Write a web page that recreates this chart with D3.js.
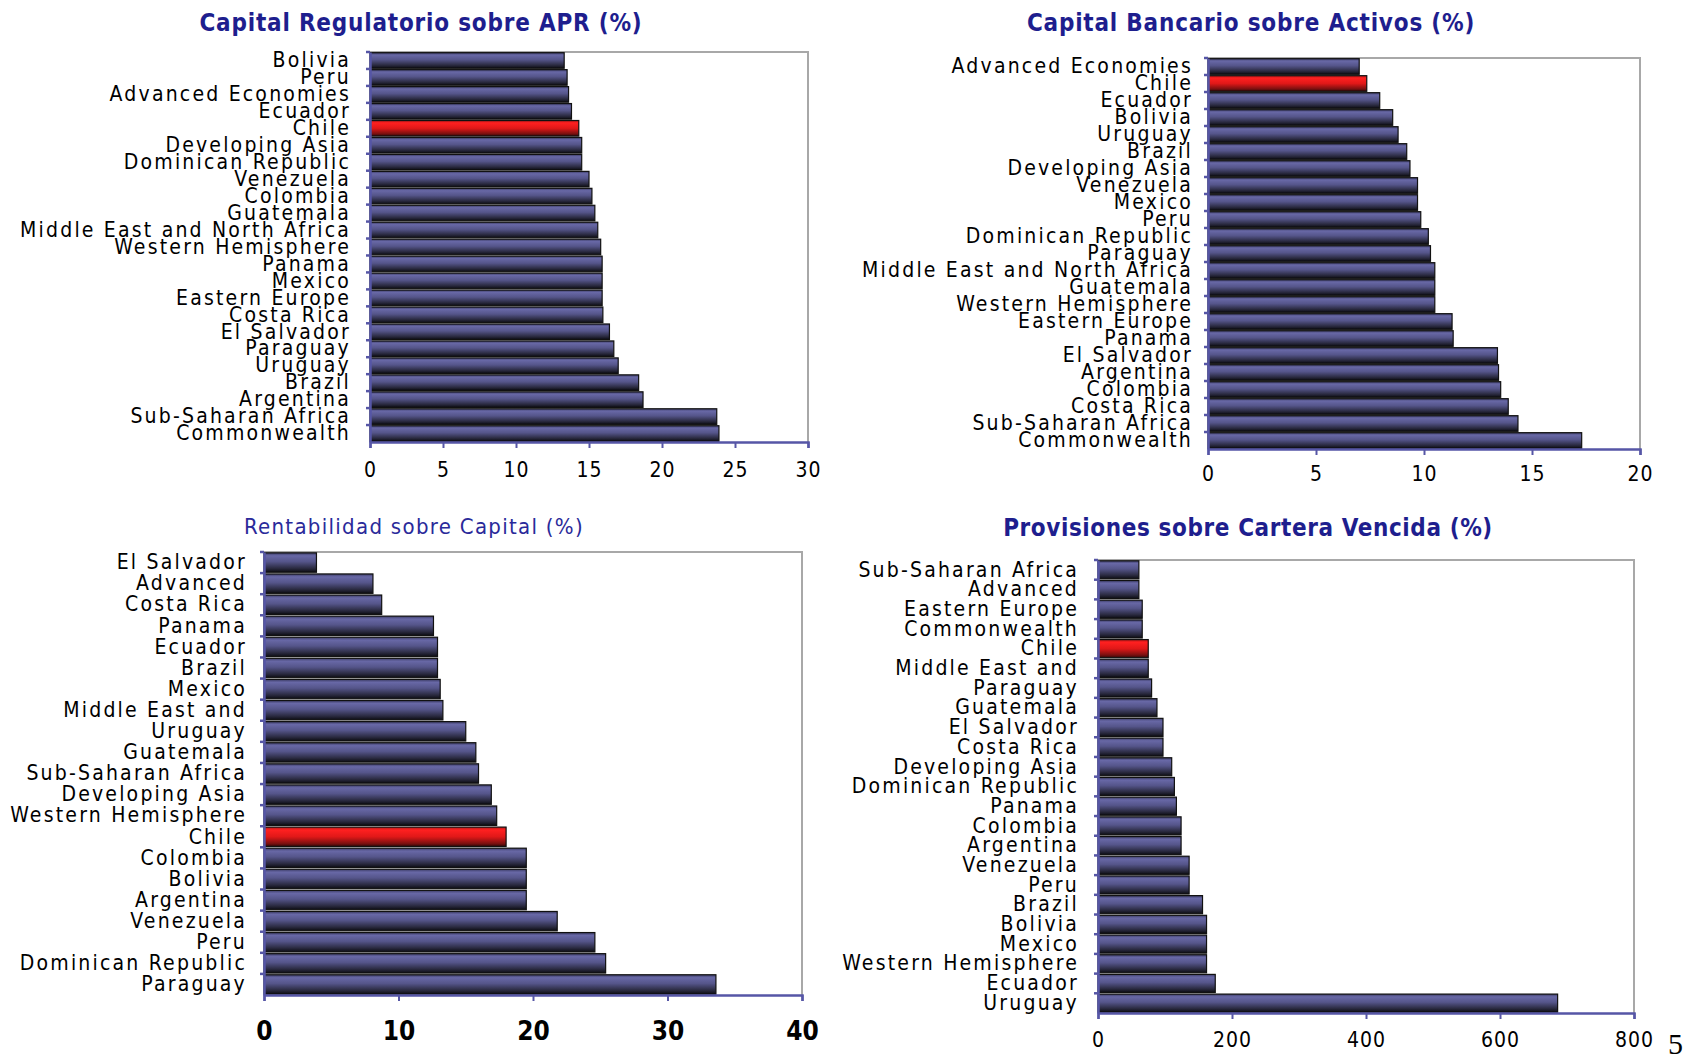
<!DOCTYPE html>
<html><head><meta charset="utf-8">
<script src="https://cdn.jsdelivr.net/npm/d3@7"></script>
<style>
html,body{margin:0;padding:0;background:#fff;}
svg{display:block;}
</style></head>
<body>
<svg id="c" width="1700" height="1056"></svg>
<script>
// ---------- DATA ----------
const title1 = "Capital Regulatorio sobre APR (%)";
const cats1 = ["Bolivia","Peru","Advanced Economies","Ecuador","Chile","Developing Asia","Dominican Republic","Venezuela","Colombia","Guatemala","Middle East and North Africa","Western Hemisphere","Panama","Mexico","Eastern Europe","Costa Rica","El Salvador","Paraguay","Uruguay","Brazil","Argentina","Sub-Saharan Africa","Commonwealth"];
const vals1 = [13.3,13.5,13.6,13.8,14.3,14.5,14.5,15.0,15.2,15.4,15.6,15.8,15.9,15.9,15.9,15.95,16.4,16.7,17.0,18.4,18.7,23.75,23.9];
const ticks1 = [0,5,10,15,20,25,30];

const title2 = "Capital Bancario sobre Activos (%)";
const cats2 = ["Advanced Economies","Chile","Ecuador","Bolivia","Uruguay","Brazil","Developing Asia","Venezuela","Mexico","Peru","Dominican Republic","Paraguay","Middle East and North Africa","Guatemala","Western Hemisphere","Eastern Europe","Panama","El Salvador","Argentina","Colombia","Costa Rica","Sub-Saharan Africa","Commonwealth"];
const vals2 = [7.0,7.35,7.95,8.55,8.8,9.2,9.35,9.7,9.7,9.85,10.2,10.3,10.5,10.5,10.5,11.3,11.35,13.4,13.45,13.55,13.9,14.35,17.3];
const ticks2 = [0,5,10,15,20];

const title3 = "Rentabilidad sobre Capital (%)";
const cats3 = ["El Salvador","Advanced","Costa Rica","Panama","Ecuador","Brazil","Mexico","Middle East and","Uruguay","Guatemala","Sub-Saharan Africa","Developing Asia","Western Hemisphere","Chile","Colombia","Bolivia","Argentina","Venezuela","Peru","Dominican Republic","Paraguay"];
const vals3 = [3.9,8.1,8.75,12.6,12.9,12.9,13.1,13.3,15.0,15.75,15.95,16.9,17.3,18.0,19.5,19.5,19.5,21.8,24.6,25.4,33.6];
const ticks3 = [0,10,20,30,40];

const title4 = "Provisiones sobre Cartera Vencida (%)";
const cats4 = ["Sub-Saharan Africa","Advanced","Eastern Europe","Commonwealth","Chile","Middle East and","Paraguay","Guatemala","El Salvador","Costa Rica","Developing Asia","Dominican Republic","Panama","Colombia","Argentina","Venezuela","Peru","Brazil","Bolivia","Mexico","Western Hemisphere","Ecuador","Uruguay"];
const vals4 = [61,61,66,66,75,75,80,88,97,97,110,114,117,124,124,136,136,156,162,162,162,175,686];
const ticks4 = [0,200,400,600,800];

const highlight = "Chile";
const pageNumber = "5";

// ---------- DRAW ----------
const svg = d3.select("#c");
const defs = svg.append("defs");
function grad(id, stops){
  const g = defs.append("linearGradient").attr("id",id).attr("x1",0).attr("y1",0).attr("x2",0).attr("y2",1);
  stops.forEach(s=>g.append("stop").attr("offset",s[0]).attr("stop-color",s[1]));
}
grad("gBlue",[[0,"#3c3c66"],[0.15,"#6868a6"],[0.45,"#55558a"],[0.8,"#2a2a40"],[1,"#0c0c12"]]);
grad("gRed",[[0,"#b01818"],[0.15,"#ff2020"],[0.5,"#e01818"],[0.85,"#7a1010"],[1,"#300808"]]);

const labelFont = "'DejaVu Sans Condensed','Liberation Sans Narrow','Arial Narrow',sans-serif";

function drawChart(o){
  const g = svg.append("g");
  const x = d3.scaleLinear().domain([o.ticks[0], o.ticks[o.ticks.length-1]]).range([o.left,o.right]);
  const y = d3.scaleBand().domain(o.cats).range([o.top,o.bottom]).paddingInner(0.08).paddingOuter(0.04);

  // title
  g.append("text").attr("x",o.titleX).attr("y",o.titleY).attr("text-anchor","middle")
    .attr("font-family",labelFont).attr("font-size",o.titleSize).attr("font-weight",o.titleWeight)
    .attr("fill",o.titleColor).attr("letter-spacing",o.titleSpacing).text(o.title);

  // plot frame: top & right gray
  g.append("path").attr("d",`M${o.left},${o.top}H${o.right}V${o.bottom}`)
    .attr("fill","none").attr("stroke","#a8a8a8").attr("stroke-width",2);

  // bars
  g.selectAll("rect.bar").data(o.cats).join("rect").attr("class","bar")
    .attr("x",x(0)).attr("y",d=>y(d)).attr("height",y.bandwidth())
    .attr("width",(d,i)=>x(o.vals[i])-x(0))
    .attr("fill",d=>d===highlight?"url(#gRed)":"url(#gBlue)")
    .attr("stroke","#111").attr("stroke-width",1.2);

  // left axis
  const ya = d3.axisLeft(y).tickSize(0).tickPadding(o.labelPad);
  const yg = g.append("g").attr("transform",`translate(${o.left},0)`).call(ya);
  yg.select(".domain").attr("stroke","#5656a6").attr("stroke-width",2.5);
  yg.selectAll("text").attr("font-family",labelFont).attr("font-size",o.labelSize)
    .attr("letter-spacing",o.labelSpacing).attr("fill","#000");
  // boundary tick dots
  const step = y.step();
  g.selectAll("line.ytk").data(o.cats).join("line").attr("class","ytk")
    .attr("x1",o.left-4).attr("x2",o.left).attr("y1",d=>y(d)-step*0.04).attr("y2",d=>y(d)-step*0.04)
    .attr("stroke","#5656a6").attr("stroke-width",2.5);

  // bottom axis
  const xa = d3.axisBottom(x).tickValues(o.ticks).tickSize(6).tickPadding(o.tickPad).tickFormat(d3.format("d"));
  const xg = g.append("g").attr("transform",`translate(0,${o.bottom})`).call(xa);
  xg.select(".domain").attr("stroke","#5656a6").attr("stroke-width",2.5);
  xg.selectAll(".tick line").attr("stroke","#5656a6").attr("stroke-width",2);
  xg.selectAll("text").attr("font-family",labelFont).attr("font-size",o.tickSize)
    .attr("font-weight",o.tickWeight).attr("fill","#000").attr("letter-spacing",o.tickSpacing||0);
}

drawChart({title:title1,cats:cats1,vals:vals1,ticks:ticks1,left:370,right:808,top:52,bottom:442,
  titleX:421,titleY:31,titleSize:24,titleWeight:"bold",titleColor:"#1e1e8e",titleSpacing:0.8,
  labelSize:21,labelSpacing:2.2,labelPad:19,tickPad:14,tickSize:21,tickWeight:"normal",tickSpacing:1});
drawChart({title:title2,cats:cats2,vals:vals2,ticks:ticks2,left:1208,right:1640,top:58,bottom:449,
  titleX:1251,titleY:31,titleSize:24,titleWeight:"bold",titleColor:"#1e1e8e",titleSpacing:0.8,
  labelSize:21,labelSpacing:2.2,labelPad:15,tickPad:11,tickSize:21,tickWeight:"normal",tickSpacing:1});
drawChart({title:title3,cats:cats3,vals:vals3,ticks:ticks3,left:264,right:802,top:552,bottom:995,
  titleX:414,titleY:534,titleSize:22,titleWeight:"normal",titleColor:"#2a2a9a",titleSpacing:1.3,
  labelSize:21,labelSpacing:2.2,labelPad:17,tickPad:21,tickSize:26,tickWeight:"bold"});
drawChart({title:title4,cats:cats4,vals:vals4,ticks:ticks4,left:1098,right:1634,top:560,bottom:1013,
  titleX:1248,titleY:536,titleSize:24,titleWeight:"bold",titleColor:"#1e1e8e",titleSpacing:0.6,
  labelSize:21,labelSpacing:2.2,labelPad:19,tickPad:13,tickSize:21,tickWeight:"normal",tickSpacing:1});

svg.append("text").attr("x",1668).attr("y",1054).attr("font-family","'Liberation Serif','DejaVu Serif',serif")
  .attr("font-size",30).attr("fill","#000").text(pageNumber);
</script>
</body></html>
